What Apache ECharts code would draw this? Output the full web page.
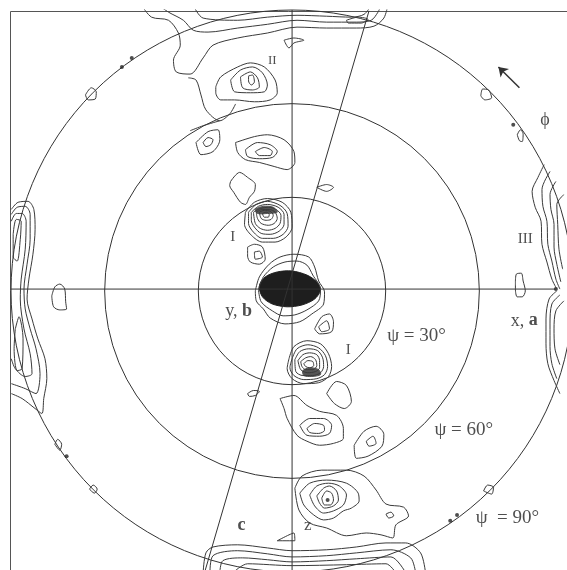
<!DOCTYPE html>
<html>
<head>
<meta charset="utf-8">
<script src="https://cdn.jsdelivr.net/npm/echarts@6/dist/echarts.min.js"></script>
<style>
  html, body { margin: 0; padding: 0; background: #fff; }
  #main { width: 567px; height: 570px; }
</style>
</head>
<body>
<div id="main"></div>
<script>
// projection coordinates: distance from centre = psi in degrees (rim = 90)
const ringPsi = [30, 60, 90];

// reference directions
const xDirection = [[-90, 0.3], [86.4, 0.3]];
const zDirection = [[1, 90], [1, -90]];
const cDirection = [[25.9, 89.7], [-27.1, -90]];

// top rim band
const topBand1 = [[-47.7,91.5],[-44.5,87.7],[-39.0,86.7],[-35.8,82.6],[-35.2,78.7],[-37.4,73.9],[-36.5,70.1],[-32,69.4],[-27.8,74.6],[-24.6,78.7],[-16.6,81.0],[-7.0,82.6],[2.6,84.5],[12.2,84.2],[21.8,84.2],[27.5,84.8],[30.7,87.4],[32,91.5]];
const topBand2 = [[-42.2,91.5],[-39.0,89.3],[-34.2,86.7],[-31.0,83.5],[-26.2,82.9],[-16.6,84.2],[-7.0,85.4],[2.6,86.7],[12.2,86.1],[21.8,86.1],[26.6,86.7],[28.8,89.3],[29.8,91.5]];
const topBand3 = [[-31.0,91.5],[-27.8,87.4],[-16.6,86.7],[-7.0,87.7],[2.6,88.3],[12.2,88.0],[20.2,87.7],[24.3,88.6],[26.6,91.5]];
const topKnot = [[18.6,86.7],[22.4,87.7],[25.6,87.0],[23.4,85.8],[19.2,85.8]];
const spurA = [[-32.6,68.2],[-30.1,67.5],[-28.5,62.7],[-26.9,57.9],[-22.4,54.4],[-19.2,56.6],[-17.3,59.8]];
const spurB = [[-32,51.2],[-27.8,52.8],[-22.4,54.4]];

// pole II
const poleII = [
  [[-23.7,65.3],[-22.1,68.5],[-16.6,71.7],[-12.5,73.0],[-8.0,71.7],[-4.5,67.5],[-3.8,63.4],[-6.1,61.1],[-11.2,60.5],[-17.6,61.1],[-22.1,61.1],[-23.7,63.4]],
  [[-18.9,67.5],[-15.7,70.7],[-11.8,71.7],[-8.6,69.8],[-7.0,65.9],[-8.0,63.7],[-12.5,63.4],[-17.6,63.7]],
  [[-15.7,68.5],[-12.5,70.1],[-10.2,68.2],[-9.6,65.3],[-11.8,64.3],[-15.0,65.0]],
  [[-13.1,68.8],[-11.8,69.1],[-11.2,66.9],[-12.2,65.9],[-13.1,67.2]]
];
const sideII = [
  [[-30.1,47.4],[-26.2,50.9],[-23.0,51.5],[-22.4,48.3],[-24.6,44.5],[-28.5,43.5]],
  [[-27.8,47.4],[-26.2,49.0],[-24.6,48.3],[-25.3,46.7],[-26.9,46.1]]
];
const belowII = [
  [[-17.3,47.4],[-11.2,49.3],[-7.0,49.9],[-1.6,48.3],[1.6,44.5],[1.9,41.0],[-0.6,38.7],[-4.8,39.7],[-9.6,41.0],[-14.1,41.9],[-16.6,44.2]],
  [[-14.1,45.1],[-10.2,47.4],[-6.1,46.7],[-3.8,44.5],[-5.4,42.6],[-9.6,42.2],[-13.4,42.9]],
  [[-10.9,44.5],[-8.0,45.8],[-5.4,44.5],[-6.1,43.2],[-9.6,43.2]]
];

// pole I (upper)
const poleIUpper = [
  [[-14.1,25.0],[-11.2,28.2],[-7.0,29.4],[-2.2,28.2],[0.6,25.0],[1.0,20.2],[-1.0,17.0],[-4.5,15.4],[-8.6,15.4],[-12.2,17.6],[-14.4,21.1]],
  [[-13.1,25.0],[-10.6,27.5],[-7.0,28.5],[-2.9,27.2],[-0.6,24.6],[-0.3,20.5],[-1.9,17.9],[-5.1,16.6],[-8.6,16.6],[-11.5,18.6],[-13.1,21.4]],
  [[-12.2,25.0],[-9.9,26.9],[-7.0,27.5],[-3.5,26.6],[-1.6,24.3],[-1.6,21.1],[-3.2,18.9],[-6.1,17.9],[-9.0,18.2],[-11.2,20.2],[-12.2,22.4]],
  [[-11.5,25.0],[-9.3,26.2],[-6.7,26.6],[-4.2,25.9],[-2.6,24.0],[-2.9,21.4],[-4.5,19.8],[-7.0,19.2],[-9.3,19.8],[-10.9,21.4]],
  [[-10.6,25.0],[-8.6,25.9],[-6.4,25.9],[-4.5,25.0],[-3.8,23.0],[-4.8,21.4],[-6.7,20.8],[-9.0,21.4],[-10.2,23.0]],
  [[-9.6,25.0],[-8.0,25.6],[-6.1,25.3],[-5.1,24.0],[-5.8,22.7],[-7.4,22.4],[-9.0,23.0]],
  [[-8.6,24.6],[-7.4,25.0],[-6.4,24.3],[-6.7,23.4],[-8.0,23.4]]
];
const denseUpper = [[-10.9,25.9],[-8.3,26.9],[-5.1,26.6],[-3.8,25.0],[-7.0,24.6],[-10.2,24.6]];

// central pole
const centreRings = [
  [[-10.9,-0.3],[-9.6,4.2],[-6.4,8.3],[-2.9,10.6],[1.6,11.5],[6.4,10.6],[8.3,7.4],[9.6,2.9],[11.5,-0.6],[11.2,-4.5],[7.4,-7.7],[3.5,-10.2],[-1.3,-10.9],[-6.1,-9.0],[-8.3,-6.1],[-10.6,-3.5]],
  [[-9.9,0.3],[-8.3,4.2],[-5.1,7.4],[-1.3,9.0],[2.6,9.3],[5.8,8.0],[7.7,4.8],[10.2,0.3],[9.6,-3.5],[5.8,-6.4],[1.9,-8.0],[-1.9,-8.3],[-5.4,-6.7],[-9.0,-3.8]]
];
const centreCore = [[-9.6,1.3],[-7.7,4.2],[-3.8,5.8],[1.0,6.1],[5.8,4.8],[9.0,2.6],[10.2,0],[8.3,-2.9],[4.2,-4.8],[-0.6,-5.4],[-5.4,-4.5],[-8.6,-2.2]];

// pole I (lower)
const poleILower = [
  [[0,-22.1],[1.6,-18.2],[5.8,-16.3],[10.2,-17.3],[12.8,-20.5],[13.8,-24.6],[12.8,-27.8],[9.6,-29.8],[4.8,-30.1],[1.0,-28.5],[-0.6,-25.3]],
  [[1.0,-22.1],[2.6,-18.9],[6.1,-17.6],[9.6,-18.6],[11.8,-21.1],[12.5,-24.6],[11.5,-27.2],[9.0,-28.5],[4.8,-28.8],[1.6,-27.5],[0.3,-25.0]],
  [[1.9,-22.4],[3.5,-19.8],[6.4,-18.9],[9.3,-19.5],[10.9,-21.8],[11.2,-24.6],[10.2,-26.6],[7.7,-27.5],[4.5,-27.5],[2.2,-26.2]],
  [[2.9,-22.7],[4.5,-20.8],[6.7,-20.2],[9.0,-20.8],[9.9,-22.7],[9.9,-25.0],[8.6,-26.2],[6.1,-26.6],[3.8,-25.6]],
  [[3.8,-23.0],[5.4,-21.8],[7.0,-21.4],[8.6,-22.4],[9.0,-24.3],[7.7,-25.6],[5.4,-25.6],[4.2,-24.6]],
  [[4.8,-23.7],[6.1,-22.7],[7.7,-23.0],[8.0,-24.3],[6.7,-25.0],[5.4,-24.6]]
];
const denseLower = [[4.5,-25.9],[6.7,-25.0],[9.6,-25.6],[10.2,-27.2],[7.4,-27.8],[4.8,-27.5]];

// lower field
const lowerLoops = [
  [[-2.9,-34.9],[1.6,-33.9],[5.8,-37.1],[9.9,-39.0],[15.4,-40.3],[17.6,-44.5],[17.6,-47.7],[14.4,-49.3],[9.9,-49.9],[5.8,-48.6],[2.6,-46.7],[-0.6,-41.3],[-1.6,-38.1]],
  [[3.5,-43.5],[6.7,-41.3],[11.2,-41.3],[13.8,-43.5],[13.1,-46.1],[9.9,-47.0],[5.8,-46.7]],
  [[5.8,-44.5],[8.3,-42.9],[11.2,-43.5],[11.5,-45.1],[9.6,-46.1],[6.7,-45.8]],
  [[21.1,-49.9],[24.3,-45.4],[28.2,-43.8],[30.7,-46.4],[30.1,-50.2],[25.6,-53.4],[21.8,-54.1]],
  [[25.0,-48.6],[27.2,-47.0],[28.2,-49.3],[25.9,-50.2]]
];
const poleIIb = [
  [[1.9,-63.7],[4.2,-59.8],[10.6,-57.9],[18.6,-57.9],[24.3,-59.8],[28.2,-64.3],[31.4,-68.8],[37.1,-69.8],[38.7,-72.6],[34.6,-75.5],[33.6,-79.7],[29.8,-78.7],[25.0,-78.1],[18.6,-79.0],[12.2,-76.5],[6.7,-74.9],[3.2,-70.7]],
  [[3.5,-65.3],[6.7,-62.1],[12.2,-61.1],[18.6,-62.1],[22.4,-65.3],[22.7,-67.8],[20.2,-70.1],[17.6,-71.0],[14.4,-73.3],[11.2,-73.9],[8.0,-72.3],[4.8,-69.1]],
  [[6.7,-65.9],[9.0,-63.0],[12.8,-62.1],[16.3,-63.0],[18.6,-65.9],[17.6,-69.1],[14.4,-71.0],[11.2,-71.7],[8.3,-69.4]],
  [[9.0,-66.2],[11.2,-63.7],[13.1,-63.0],[15.4,-64.6],[16.0,-67.5],[14.4,-69.4],[11.5,-70.1],[9.9,-68.5]],
  [[10.6,-66.9],[12.2,-64.6],[13.8,-65.3],[14.4,-67.5],[13.4,-69.1],[11.5,-69.1]]
];

// bottom rim band
const bottomBand = [
  [[-27.8,-90.9],[-26.9,-84.5],[-24.6,-82.6],[-16.6,-81.9],[-7.0,-82.9],[1.0,-83.8],[12.2,-83.5],[21.8,-82.6],[31.4,-81.3],[37.8,-81.3],[42.6,-84.5],[44.2,-90.9]],
  [[-25.6,-90.9],[-24.6,-85.4],[-16.6,-83.8],[-7.0,-84.8],[1.0,-85.8],[12.2,-85.4],[21.8,-84.5],[33.0,-83.5],[39.4,-86.1],[41.0,-90.9]],
  [[-22.4,-90.9],[-21.4,-87.0],[-15.0,-86.1],[-7.0,-86.7],[1.0,-87.4],[12.2,-87.0],[21.8,-86.4],[33.0,-85.8],[37.8,-90.9]],
  [[-18.2,-90.9],[-13.4,-88.0],[1.0,-88.6],[18.6,-88.3],[31.4,-88.0],[34.6,-90.9]]
];

// left rim (pole III side, -x)
const leftRim = [
  [[-89.9,25.9],[-87.7,28.2],[-84.5,28.5],[-82.6,25.9],[-82.2,19.5],[-82.9,11.5],[-84.2,3.5],[-84.8,-2.9],[-83.2,-9.3],[-81.3,-15.7],[-79.0,-22.1],[-78.4,-28.5],[-79.4,-34.9],[-80.0,-39.7],[-82.2,-38.1],[-86.4,-34.9],[-89.9,-33.3]],
  [[-89.9,24.3],[-88.0,26.6],[-85.4,26.9],[-83.8,24.3],[-83.8,16.3],[-84.8,8.3],[-85.8,0.3],[-85.4,-6.1],[-83.8,-12.5],[-81.9,-18.9],[-80.6,-26.9],[-81.9,-33.3],[-85.4,-31.7],[-89.9,-30.1]],
  [[-89.9,22.1],[-88.3,24.6],[-86.4,24.6],[-85.1,22.1],[-85.4,13.1],[-86.7,3.5],[-87.0,-2.9],[-85.8,-12.5],[-83.8,-20.5],[-83.2,-26.9],[-85.4,-27.8],[-88.6,-25.3],[-89.9,-22.1]]
];
const leftRimCores = [
  [[-89.3,17.9],[-88.3,22.7],[-86.7,22.1],[-87.0,16.3],[-88.0,9.3],[-89.3,10.6]],
  [[-88.6,-12.5],[-87.4,-8.6],[-86.1,-15.7],[-86.4,-25.3],[-88.0,-25.9],[-89.0,-18.9]]
];

// right rim (pole III)
const rightRim = [
  [[82.6,40.3],[80.6,36.2],[78.7,31.7],[79.7,26.6],[81.6,22.1],[81.9,14.7],[83.5,9.0],[85.1,3.5],[86.7,0.3]],
  [[84.5,38.1],[81.9,32.3],[82.2,26.9],[83.5,22.1],[83.8,14.7],[85.1,9.3],[86.4,3.5],[87.7,0.3]],
  [[86.4,34.9],[84.5,30.7],[84.8,25.9],[85.8,21.1],[85.8,13.8],[86.7,8.3],[88.0,2.6]],
  [[89.0,30.7],[86.7,27.5],[87.0,21.1],[87.4,13.1],[88.6,6.7]],
  [[86.7,-0.3],[84.2,-2.9],[83.2,-9.3],[83.2,-17.3],[83.8,-23.7],[85.8,-29.1],[87.7,-33.3]],
  [[87.7,-1.6],[85.1,-4.5],[84.5,-10.9],[84.5,-18.2],[85.1,-23.7],[86.7,-28.5]],
  [[89.0,-3.5],[86.4,-6.7],[85.8,-12.5],[86.1,-18.9],[87.7,-24.0]]
];

// isolated small loops
const smallLoops = [
  [[-18.9,34.9],[-16.0,37.8],[-13.4,36.2],[-10.9,33.9],[-11.2,31.7],[-12.8,29.8],[-14.1,27.5],[-15.7,28.2],[-17.9,31.4],[-19.2,33.6]],
  [[-1.6,80.3],[1.6,81.0],[4.8,80.3],[1.6,79.4],[0,77.8]],
  [[9.0,33.0],[12.2,33.9],[14.4,33.0],[12.2,31.7]],
  [[-13.4,13.8],[-11.2,14.7],[-8.6,13.8],[-7.7,9.9],[-9.6,8.3],[-12.5,9.0],[-13.4,10.9]],
  [[-11.2,12.2],[-9.6,12.5],[-8.6,10.6],[-10.9,9.9]],
  [[8.3,-12.5],[10.6,-8.6],[13.1,-7.7],[14.4,-10.2],[13.8,-13.4],[9.9,-14.1]],
  [[9.6,-11.8],[12.2,-9.9],[13.1,-12.5],[10.6,-13.4]],
  [[-13.4,-33.3],[-11.5,-32.3],[-9.6,-32.6],[-10.9,-33.9],[-12.8,-34.2]],
  [[12.2,-33.3],[15.4,-29.4],[18.6,-30.7],[20.2,-35.8],[17.9,-38.1],[14.7,-36.5]],
  [[31.4,-72.0],[33.0,-71.4],[33.9,-72.6],[32.3,-73.3]],
  [[-3.8,-80.6],[0,-78.7],[1.6,-78.1],[1.9,-80.6]],
  [[-76.8,-1.9],[-75.8,1.0],[-74.2,1.9],[-72.6,0.3],[-72.3,-3.8],[-72.0,-6.1],[-74.2,-6.4],[-76.2,-5.4]],
  [[73.3,2.6],[73.6,5.1],[75.2,5.4],[75.8,2.9],[76.5,-0.3],[75.5,-2.2],[73.9,-2.2],[73.3,0.3]],
  [[-65.9,62.7],[-64.0,65.0],[-62.4,63.7],[-62.7,61.4],[-65.0,61.1]],
  [[62.1,62.4],[62.7,64.6],[64.6,64.3],[65.6,61.8],[63.4,61.1]],
  [[73.9,49.9],[74.9,51.5],[75.8,50.2],[75.5,47.7],[74.6,48.0]],
  [[-75.8,-49.6],[-74.9,-48.0],[-73.6,-49.6],[-74.2,-51.5]],
  [[-64.6,-64.0],[-63.4,-62.7],[-62.1,-64.0],[-63.0,-65.3]],
  [[63.0,-64.6],[64.3,-62.7],[66.2,-63.4],[65.6,-65.6]]
];

const rimDots = [[-54.1,71.7],[-50.9,74.6],[72.6,53.1],[-72.0,-53.4],[54.4,-72.3],[52.2,-74.2],[86.4,0.3],[12.5,-67.5]];
const phiArrow = [[74.6,65.0],[67.8,71.7]];

const labelTexts = ['II', 'I', 'I', 'III', 'y, {bold|b}', 'x, {bold|a}', 'ψ = 30°', 'ψ = 60°', 'ψ  = 90°', '{bold|c}', 'z', 'ϕ'];
const labelAt = [[-5.4,73.6],[-18.2,17.0],[19.2,-19.2],[76.5,16.3],[-16.3,-6.7],[76.2,-9.9],[41.3,-14.7],[56.6,-45.1],[70.7,-73.3],[-15.4,-75.8],[6.1,-75.8],[82.9,54.7]];
const labelSize = [13, 15, 15, 15, 18, 18, 19, 19, 19, 18, 17, 18];

const INK = '#333';
const FONT = 'Liberation Serif, DejaVu Serif, serif';

function trace(points, closed, smooth) {
  return {
    type: 'line',
    data: closed ? points.concat([points[0]]) : points,
    showSymbol: false,
    symbol: 'none',
    smooth: smooth === undefined ? 0.3 : smooth,
    silent: true,
    clip: true,
    lineStyle: { color: '#3a3a3a', width: 1 }
  };
}

function fill(points, color) {
  return {
    type: 'custom',
    data: [[0, 0]],
    silent: true,
    clip: true,
    renderItem: function (params, api) {
      return {
        type: 'polygon',
        shape: { points: points.map(function (p) { return api.coord(p); }), smooth: 0.3 },
        style: { fill: color, stroke: color, lineWidth: 1 }
      };
    }
  };
}

const series = [];
[xDirection, zDirection, cDirection].forEach(function (d) {
  const s = trace(d, false, false);
  s.lineStyle = { color: INK, width: 1 };
  series.push(s);
});
[topBand1, topBand2, topBand3, spurA, spurB].forEach(function (c) { series.push(trace(c, false)); });
bottomBand.concat(leftRim, rightRim).forEach(function (c) { series.push(trace(c, false)); });
[topKnot].concat(poleII, sideII, belowII, poleIUpper, centreRings, poleILower, lowerLoops, poleIIb, leftRimCores, smallLoops)
  .forEach(function (c) { series.push(trace(c, true)); });
series.push(fill(centreCore, '#1e1e1e'));
series.push(fill(denseUpper, '#555'));
series.push(fill(denseLower, '#555'));
series.push({
  type: 'scatter', data: rimDots, symbolSize: 4, silent: true,
  itemStyle: { color: '#222' }
});
series.push({
  type: 'lines', coordinateSystem: 'cartesian2d', silent: true,
  symbol: ['none', 'arrow'], symbolSize: 9,
  lineStyle: { color: INK, width: 1.5, opacity: 1 },
  data: [{ coords: phiArrow }]
});
series.push({
  type: 'scatter', symbolSize: 0, silent: true,
  data: labelTexts.map(function (t, i) {
    return {
      name: t, value: labelAt[i],
      label: { fontSize: labelSize[i] }
    };
  }),
  label: {
    show: true, position: 'inside', color: '#222', fontFamily: FONT,
    formatter: function (p) { return p.name; },
    rich: { bold: { fontWeight: 'bold', fontFamily: FONT } }
  }
});

const chart = echarts.init(document.getElementById('main'));
chart.setOption({
  animation: false,
  backgroundColor: '#fff',
  polar: { center: [292, 291], radius: 281 },
  angleAxis: {
    min: 0, max: 360, axisLine: { show: false }, axisTick: { show: false },
    axisLabel: { show: false }, splitLine: { show: false }
  },
  radiusAxis: {
    min: 0, max: ringPsi[ringPsi.length - 1], interval: ringPsi[0],
    axisLine: { show: false }, axisTick: { show: false }, axisLabel: { show: false },
    splitLine: { show: true, lineStyle: { color: INK, width: 1 } }
  },
  grid: { left: 11, top: 10, width: 562, height: 562 },
  xAxis: { type: 'value', min: -90, max: 90, show: false },
  yAxis: { type: 'value', min: -90, max: 90, show: false },
  graphic: [
    { type: 'line', shape: { x1: 10.5, y1: 11.5, x2: 10.5, y2: 570 }, style: { stroke: '#555', lineWidth: 1 } },
    { type: 'line', shape: { x1: 10.5, y1: 11.5, x2: 567, y2: 11.5 }, style: { stroke: '#555', lineWidth: 1 } }
  ],
  series: series
});
</script>
</body>
</html>
